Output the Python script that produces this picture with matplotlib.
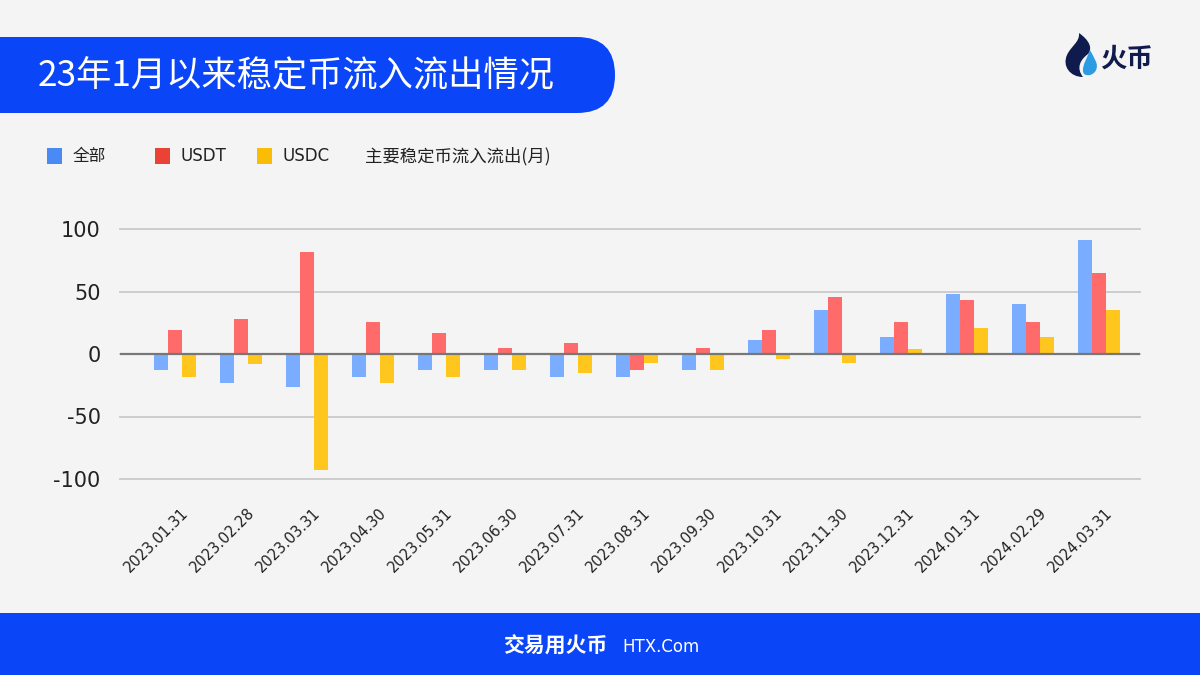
import numpy as np
import matplotlib
matplotlib.use("Agg")
import matplotlib.pyplot as plt
import matplotlib.transforms as mtransforms
from matplotlib.patches import FancyBboxPatch, Rectangle, PathPatch
from matplotlib.path import Path

plt.rcParams['font.family'] = ['Noto Sans CJK SC', 'DejaVu Sans']

dates = ['2023.01.31', '2023.02.28', '2023.03.31', '2023.04.30', '2023.05.31',
         '2023.06.30', '2023.07.31', '2023.08.31', '2023.09.30', '2023.10.31',
         '2023.11.30', '2023.12.31', '2024.01.31', '2024.02.29', '2024.03.31']
total = [-12.5, -23, -26, -18, -12.5, -12.5, -18, -18, -12.5, 11.5, 35, 14, 48, 40, 91]
usdt = [19, 28, 82, 26, 17, 5, 9, -12.5, 5, 19, 46, 26, 43, 26, 64.5]
usdc = [-18, -8, -93, -23, -18, -12.5, -15, -7.5, -12.5, -4, -7, 4, 21, 14, 35]
yticks = [-100, -50, 0, 50, 100]

bg = '#f4f4f4'
brand = '#0a45f7'
c_all, c_usdt, c_usdc = '#7aadff', '#ff6b6b', '#ffc61e'
l_all, l_usdt, l_usdc = '#4a8af4', '#ea4335', '#fbbc05'
latin = ['DejaVu Sans', 'Noto Sans CJK SC']

fig = plt.figure(figsize=(12, 6.75), dpi=100, facecolor=bg)

# overlay in pixel coordinates
ov = fig.add_axes([0, 0, 1, 1], zorder=0)
ov.set_xlim(0, 1200)
ov.set_ylim(675, 0)
ov.axis('off')

ov.add_patch(FancyBboxPatch((-60, 37), 675, 76, boxstyle="round,pad=0,rounding_size=38",
                            fc=brand, ec='none'))
ov.text(38, 76, '23年1月以来稳定币流入流出情况', color='white', fontsize=25.4,
        fontweight='medium', va='center', ha='left')

ov.add_patch(Rectangle((0, 613), 1200, 62, fc=brand, ec='none'))
ov.text(607, 646, '交易用火币', color='white', fontsize=15, fontweight='bold',
        va='center', ha='right')
ov.text(622, 647, 'HTX.Com', color='white', fontsize=12, va='center', ha='left',
        family=latin)

# logo
flame = Path([(1083, 77), (1070, 77), (1062, 66), (1067, 55),
              (1071, 46), (1080, 42), (1079, 33),
              (1089, 40), (1093, 48), (1088, 54),
              (1080, 60), (1076, 68), (1083, 77), (1083, 77)],
             [Path.MOVETO] + [Path.CURVE4] * 12 + [Path.CLOSEPOLY])
ov.add_patch(PathPatch(flame, fc='#101b4d', ec='none'))
drop = Path([(1090, 50), (1094, 58), (1099, 64), (1096, 70),
             (1093, 77), (1082, 77), (1083, 70),
             (1083, 64), (1087, 58), (1090, 50), (1090, 50)],
            [Path.MOVETO] + [Path.CURVE4] * 9 + [Path.CLOSEPOLY])
ov.add_patch(PathPatch(drop, fc='#2b9be3', ec='none'))
ov.text(1100, 59, '火币', color='#101b4d', fontsize=19, fontweight='bold',
        va='center', ha='left')

# legend
for x, col, lab in [(47, l_all, '全部'), (155, l_usdt, 'USDT'), (257, l_usdc, 'USDC')]:
    ov.add_patch(Rectangle((x, 148), 15, 16, fc=col, ec='none'))
    fam = latin if lab.startswith('USD') else None
    ov.text(x + 26, 156, lab, fontsize=12, color='#222222', va='center', ha='left',
            family=fam)
ov.text(365, 156, '主要稳定币流入流出(月)', fontsize=12.5, color='#222222',
        va='center', ha='left')

# chart
ax = fig.add_axes([0.1, 1 - 479 / 675, 0.85, 250 / 675], zorder=1)
ax.set_facecolor('none')
x = np.arange(len(dates))
w = 0.212
ax.bar(x - w, total, w, color=c_all, zorder=2)
ax.bar(x, usdt, w, color=c_usdt, zorder=2)
ax.bar(x + w, usdc, w, color=c_usdc, zorder=2)
ax.axhline(0, color='#777777', lw=1.6, zorder=3)

ax.set_xlim(-0.833, 14.62)
ax.set_ylim(-100, 100)
ax.set_yticks(yticks)
ax.set_yticklabels([str(v) for v in yticks], family=latin)
ax.yaxis.grid(True, color='#cccccc', lw=1.4, zorder=0)
ax.set_axisbelow(True)
for s in ax.spines.values():
    s.set_visible(False)
ax.tick_params(axis='y', length=0, pad=14, labelsize=15, labelcolor='#222222')
ax.set_xticks(x)
ax.set_xticklabels(dates, rotation=45, ha='right', rotation_mode='anchor',
                   fontsize=10.5, color='#222222', family=latin)
ax.tick_params(axis='x', length=0, pad=19)
shift = mtransforms.ScaledTranslation(6 / 100, 0, fig.dpi_scale_trans)
for lbl in ax.get_xticklabels():
    lbl.set_transform(lbl.get_transform() + shift)
for gl in ax.get_ygridlines():
    gl.set_clip_on(False)

fig.savefig('out.png', dpi=100, facecolor=bg)
